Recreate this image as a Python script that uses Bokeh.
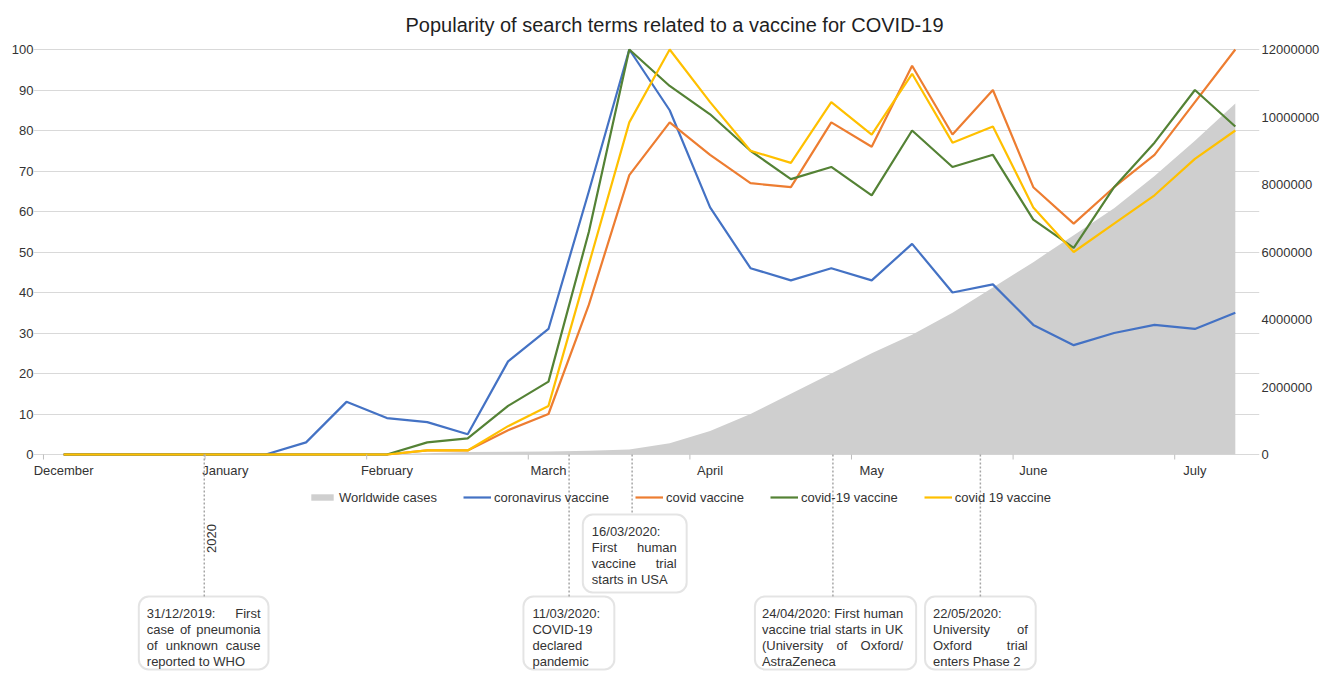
import math
from bokeh.plotting import figure
from bokeh.models import (Range1d, LinearAxis, FixedTicker, NumeralTickFormatter,
                          Legend, LegendItem, ColumnDataSource, BoxAnnotation)
from bokeh.core.properties import value
from bokeh.embed import file_html
from bokeh.resources import INLINE

# ---------------- data ----------------
TITLE = "Popularity of search terms related to a vaccine for COVID-19"
weeks = list(range(30))
month_labels = ["December", "January", "February", "March", "April", "May", "June", "July"]
month_weeks = [0, 4, 8, 12, 16, 20, 24, 28]
popularity_ticks = list(range(0, 101, 10))
cases_ticks = list(range(0, 12000001, 2000000))

worldwide_cases = [0, 0, 0, 0, 0, 0, 0, 2000, 17000, 40000, 71000, 79000, 88000, 110000,
                   150000, 330000, 700000, 1200000, 1800000, 2400000, 3000000, 3550000,
                   4200000, 4950000, 5700000, 6500000, 7300000, 8250000, 9300000, 10400000]
coronavirus_vaccine = [0, 0, 0, 0, 0, 0, 3, 13, 9, 8, 5, 23, 31, 65, 100, 85, 61, 46, 43, 46,
                       43, 52, 40, 42, 32, 27, 30, 32, 31, 35]
covid_vaccine = [0, 0, 0, 0, 0, 0, 0, 0, 0, 1, 1, 6, 10, 37, 69, 82, 74, 67, 66, 82, 76, 96,
                 79, 90, 66, 57, 66, 74, 87, 100]
covid_dash_19_vaccine = [0, 0, 0, 0, 0, 0, 0, 0, 0, 3, 4, 12, 18, 55, 100, 91, 84, 75, 68, 71,
                         64, 80, 71, 74, 58, 51, 66, 77, 90, 81]
covid_19_vaccine = [0, 0, 0, 0, 0, 0, 0, 0, 0, 1, 1, 7, 12, 47, 82, 100, 87, 75, 72, 87, 79,
                    94, 77, 81, 61, 50, 57, 64, 73, 80]

series_names = ["coronavirus vaccine", "covid vaccine", "covid-19 vaccine", "covid 19 vaccine"]
series_values = [coronavirus_vaccine, covid_vaccine, covid_dash_19_vaccine, covid_19_vaccine]
area_name = "Worldwide cases"
year_label = "2020"

event_weeks = [3.48, 12.51, 14.07, 19.04, 22.69]
event_texts = [
    ["31/12/2019: First", "case of pneumonia", "of unknown cause", "reported to WHO"],
    ["11/03/2020:", "COVID-19", "declared", "pandemic"],
    ["16/03/2020:", "First human", "vaccine trial", "starts in USA"],
    ["24/04/2020: First human", "vaccine trial starts in UK", "(University of Oxford/", "AstraZeneca"],
    ["22/05/2020:", "University of", "Oxford trial", "enters Phase 2"],
]

# ---------------- layout / style ----------------
FONT = "Liberation Sans"
TXT = "#333333"
COLORS = ["#4472C4", "#ED7D31", "#548235", "#FFC000"]
AREA_COLOR = "#CFCFCF"
GRID = "#D9D9D9"
W, H = 1322, 671
FRAME_L, FRAME_R, TOP = 33, 1262, 36      # frame edges (px)
GRID_L, GRID_R = 43, 1258                 # where the plot area (gridlines) starts / ends
G0, G1 = -0.5, 29.5                       # week units of the plot area edges
PX_PER_X = (GRID_R - GRID_L) / (G1 - G0)
X0 = G0 - (GRID_L - FRAME_L) / PX_PER_X
X1 = G1 + (FRAME_R - GRID_R) / PX_PER_X
PX_PER_Y = 4.05
ZERO_PX = 454                             # screen row of the zero line
Y_TOP = (ZERO_PX - TOP) / PX_PER_Y
Y_BOT = -(H - ZERO_PX) / PX_PER_Y
CASES_SCALE = cases_ticks[-1] / popularity_ticks[-1]


def below(px):
    """pixels below the zero line -> data units"""
    return -px / PX_PER_Y


# annotation boxes (x in week units, vertical in px below zero line)
BOX_LEFT = [1.86, 11.38, 12.85, 17.11, 21.32]
BOX_RIGHT = [5.07, 13.63, 15.42, 21.10, 24.06]
BOX_TOP_PX = [142, 142, 60, 142, 142]
BOX_H_PX = [73, 73, 78, 73, 73]
PAD_L_PX = [8, 9, 9, 7, 8]
PAD_R_PX = [8, 8, 10, 13, 8]
LINE0_PX, LINE_STEP_PX = 16.5, 16

p = figure(width=W, height=H, x_range=Range1d(X0, X1), y_range=Range1d(Y_BOT, Y_TOP),
           x_axis_location=None, output_backend="svg", toolbar_location=None,
           min_border_left=FRAME_L, min_border_right=W - FRAME_R, min_border_top=TOP,
           min_border_bottom=0, outline_line_color=None,
           background_fill_color="white", border_fill_color="white")

p.title.text = TITLE
p.title.align = "left"
p.title.offset = 405 - FRAME_L
p.title.text_font = FONT
p.title.text_font_size = "20px"
p.title.text_font_style = "normal"
p.title.text_color = "#1F1F1F"
p.title.standoff = 2

yax = p.left[0]
yax.ticker = FixedTicker(ticks=popularity_ticks)
yax.axis_line_color = None
yax.major_tick_line_color = None
yax.minor_tick_line_color = None
yax.major_tick_out = 0
yax.major_tick_in = 0
yax.major_label_standoff = 0
yax.major_label_text_font = FONT
yax.major_label_text_font_size = "13px"
yax.major_label_text_color = TXT

p.extra_y_ranges = {"cases": Range1d(Y_BOT * CASES_SCALE, Y_TOP * CASES_SCALE)}
rax = LinearAxis(y_range_name="cases", ticker=FixedTicker(ticks=cases_ticks),
                 formatter=NumeralTickFormatter(format="0"))
rax.axis_line_color = None
rax.major_tick_line_color = None
rax.minor_tick_line_color = None
rax.major_tick_out = 0
rax.major_tick_in = 0
rax.major_label_standoff = 2
rax.major_label_text_font = FONT
rax.major_label_text_font_size = "13px"
rax.major_label_text_color = TXT
p.add_layout(rax, "right")

p.ygrid.ticker = yax.ticker
p.ygrid.bounds = (G0, G1)
p.ygrid.grid_line_color = GRID
p.ygrid.grid_line_width = 1.2
p.xgrid.visible = False

# area
src = ColumnDataSource(dict(x=weeks, cases=worldwide_cases, zero=[0] * len(weeks)))
area = p.varea(x="x", y1="zero", y2="cases", source=src, y_range_name="cases",
               fill_color=AREA_COLOR, fill_alpha=1.0)

lines = []
for vals, col in zip(series_values, COLORS):
    r = p.line(x=weeks, y=vals, line_color=col, line_width=2.2)
    lines.append(r)

# x axis drawn on the zero line (month ticks between labels)
bounds = [m - 0.5 for m in month_weeks]
p.segment(x0=bounds, y0=[0] * len(bounds), x1=bounds, y1=[below(5)] * len(bounds),
          line_color="#BFBFBF", line_width=1)
p.text(x=month_weeks, y=[below(16)] * len(month_weeks), text=month_labels,
       text_align="center", text_baseline="middle", text_font=value(FONT),
       text_font_size="13px", text_color=TXT)

# event guide lines
p.segment(x0=event_weeks, y0=[0] * len(event_weeks), x1=event_weeks,
          y1=[below(t) for t in BOX_TOP_PX], line_color="#A6A6A6", line_width=1.5,
          line_dash="2 2")
p.text(x=[3.67], y=[below(84)], text=[year_label], angle=math.pi / 2,
       text_align="center", text_baseline="middle", text_font=value(FONT),
       text_font_size="13px", text_color=TXT)

# boxes
for i in range(len(event_texts)):
    p.add_layout(BoxAnnotation(left=BOX_LEFT[i], right=BOX_RIGHT[i],
                               top=below(BOX_TOP_PX[i]),
                               bottom=below(BOX_TOP_PX[i] + BOX_H_PX[i]),
                               fill_color="white", fill_alpha=1.0, line_color="#A6A6A6",
                               line_width=2, border_radius=10, level="underlay"))

# justified text inside boxes
AW = {' ': 278, '/': 278, ':': 278, '(': 333, ')': 333, '-': 333, '.': 278}
for ch in "0123456789":
    AW[ch] = 556
AW.update({'a': 556, 'b': 556, 'c': 500, 'd': 556, 'e': 556, 'f': 278, 'g': 556, 'h': 556,
           'i': 222, 'j': 222, 'k': 500, 'l': 222, 'm': 833, 'n': 556, 'o': 556, 'p': 556,
           'q': 556, 'r': 333, 's': 500, 't': 278, 'u': 556, 'v': 500, 'w': 722, 'x': 500,
           'y': 500, 'z': 500, 'A': 667, 'B': 667, 'C': 722, 'D': 722, 'E': 667, 'F': 611,
           'H': 722, 'I': 278, 'K': 667, 'O': 778, 'P': 667, 'S': 667, 'T': 611, 'U': 722,
           'V': 667, 'W': 944, 'Z': 611})
FS = 13


def tw(s):
    return sum(AW.get(c, 556) for c in s) / 1000.0 * FS


lx, ly, lt = [], [], []
rx, ry, rt = [], [], []
for i, lines_txt in enumerate(event_texts):
    tl = BOX_LEFT[i] + PAD_L_PX[i] / PX_PER_X
    tr = BOX_RIGHT[i] - PAD_R_PX[i] / PX_PER_X
    for j, line in enumerate(lines_txt):
        yy = below(BOX_TOP_PX[i] + LINE0_PX + j * LINE_STEP_PX)
        words = line.split(" ")
        if j < len(lines_txt) - 1 and len(words) > 1:
            avail = (tr - tl) * PX_PER_X
            widths = [tw(w) for w in words]
            gap = (avail - sum(widths)) / (len(words) - 1)
            pos = 0.0
            for k, w in enumerate(words):
                if k == len(words) - 1:
                    rx.append(tr); ry.append(yy); rt.append(w)
                else:
                    lx.append(tl + pos / PX_PER_X); ly.append(yy); lt.append(w)
                pos += widths[k] + gap
        else:
            lx.append(tl); ly.append(yy); lt.append(line)

p.text(x=lx, y=ly, text=lt, text_align="left", text_baseline="middle",
       text_font=value(FONT), text_font_size="13px", text_color=TXT)
p.text(x=rx, y=ry, text=rt, text_align="right", text_baseline="middle",
       text_font=value(FONT), text_font_size="13px", text_color=TXT)

# legend
items = [LegendItem(label=area_name, renderers=[area])]
for name, r in zip(series_names, lines):
    items.append(LegendItem(label=name, renderers=[r]))
leg = Legend(items=items, orientation="horizontal",
             location=(int(round(308 - FRAME_L)), 166),
             glyph_width=28, glyph_height=8, label_height=16, label_standoff=3,
             spacing=26, padding=0, margin=0, border_line_color=None,
             background_fill_alpha=0, label_text_font=FONT,
             label_text_font_size="13px", label_text_color=TXT)
p.add_layout(leg)

open("out.html", "w").write(file_html(p, INLINE))
